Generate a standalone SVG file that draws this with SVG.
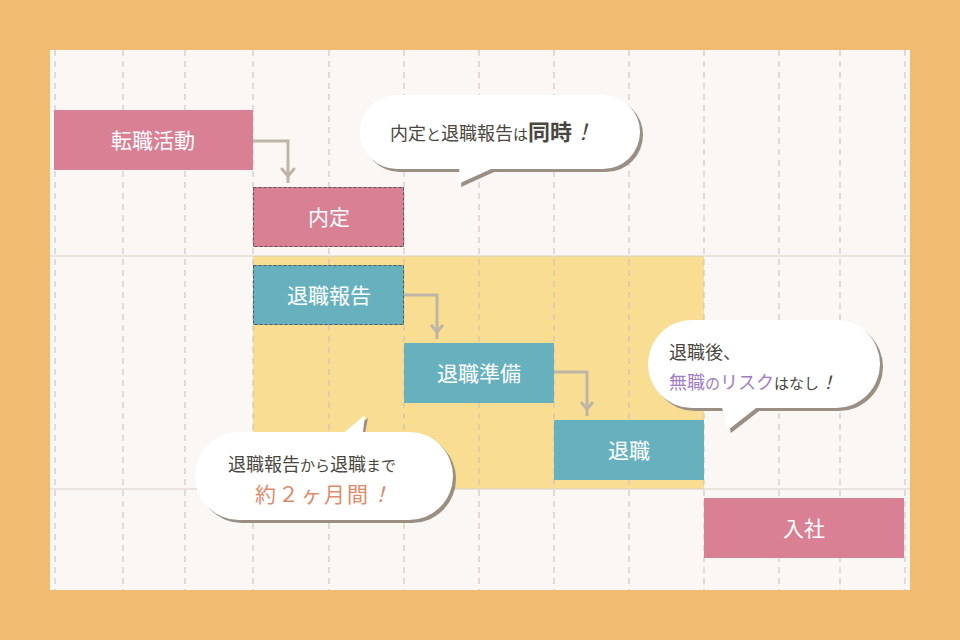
<svg xmlns="http://www.w3.org/2000/svg" width="960" height="640" viewBox="0 0 960 640">
<defs>
<style>
.g{stroke:#c8bfb6;stroke-width:1;stroke-dasharray:6 5}
.h{stroke:#d8d0c6;stroke-width:1}
.pk{fill:#d98095}
.tl{fill:#67b1bf}
.dl{fill:none;stroke:#5a5550;stroke-width:1;stroke-dasharray:3 2}
.bt{font-family:"Noto Sans CJK JP",sans-serif;font-size:21px;fill:#fff;text-anchor:middle}
.bb{font-family:"Noto Sans CJK JP",sans-serif;font-size:18px;fill:#4a4640}
.cn{fill:none;stroke:#bfb5a6;stroke-width:3}
.bub{fill:#fff}
.sh{fill:#9b8e82}
</style>
<marker id="a" viewBox="0 0 10 10" refX="5" refY="8" markerWidth="5" markerHeight="5" orient="auto-start-reverse" markerUnits="userSpaceOnUse"><path d="M0,5 L5,10 L10,5" fill="none" stroke="#bfb5a6" stroke-width="2.5" transform="rotate(-90 5 5)"/></marker>
</defs>
<rect width="960" height="640" fill="#f2bb72"/>
<rect x="50" y="50" width="860" height="540" fill="#fbf7f4"/>
<rect x="253" y="256" width="451" height="233" fill="#f8dd92"/>
<g id="grid">
<line class="g" x1="55" y1="50" x2="55" y2="590"/>
<line class="g" x1="123" y1="50" x2="123" y2="590"/>
<line class="g" x1="185" y1="50" x2="185" y2="590"/>
<line class="g" x1="253" y1="50" x2="253" y2="590"/>
<line class="g" x1="329" y1="50" x2="329" y2="590"/>
<line class="g" x1="404" y1="50" x2="404" y2="590"/>
<line class="g" x1="479" y1="50" x2="479" y2="590"/>
<line class="g" x1="554" y1="50" x2="554" y2="590"/>
<line class="g" x1="629" y1="50" x2="629" y2="590"/>
<line class="g" x1="704" y1="50" x2="704" y2="590"/>
<line class="g" x1="779" y1="50" x2="779" y2="590"/>
<line class="g" x1="840" y1="50" x2="840" y2="590"/>
<line class="g" x1="905" y1="50" x2="905" y2="590"/>
<line class="h" x1="50" y1="256" x2="910" y2="256"/>
<line class="h" x1="50" y1="489" x2="910" y2="489"/>
</g>
<g id="connectors">
<path class="cn" d="M253,141 H288 V183"/>
<path class="cn" d="M288,176 l-6,-7 M288,176 l6,-7" stroke-linecap="round"/>
<path class="cn" d="M404,295 H437 V339"/>
<path class="cn" d="M437,332 l-6,-7 M437,332 l6,-7"/>
<path class="cn" d="M554,372 H587 V416"/>
<path class="cn" d="M587,409 l-6,-7 M587,409 l6,-7"/>
</g>
<g id="n1"><rect class="pk" x="54" y="110" width="199" height="60"/><text class="bt" x="153" y="148">転職活動</text></g>
<g id="n2"><rect class="pk" x="253" y="187" width="151" height="60"/><rect class="dl" x="253.5" y="187.5" width="150" height="59"/><text class="bt" x="329" y="225">内定</text></g>
<g id="n3"><rect class="tl" x="253" y="265" width="151" height="60"/><rect class="dl" x="253.5" y="265.5" width="150" height="59"/><text class="bt" x="329" y="303">退職報告</text></g>
<g id="n4"><rect class="tl" x="404" y="343" width="150" height="60"/><text class="bt" x="479" y="381">退職準備</text></g>
<g id="n5"><rect class="tl" x="554" y="420" width="150" height="60"/><text class="bt" x="629" y="458">退職</text></g>
<g id="n6"><rect class="pk" x="704" y="498" width="200" height="60"/><text class="bt" x="804" y="536">入社</text></g>
<g id="b1">
<g transform="translate(3,3)" class="sh"><rect x="360" y="95" width="280" height="74" rx="37"/><path d="M460,160 L458,184 L500,165 Z"/></g>
<rect class="bub" x="360" y="95" width="280" height="74" rx="37"/><path class="bub" d="M460,160 L458,184 L500,165 Z"/>
<text class="bb" x="390" y="140">内定<tspan font-size="15">と</tspan>退職報告<tspan font-size="15">は</tspan><tspan font-size="22" font-weight="bold">同時</tspan><tspan font-size="22" font-style="italic">！</tspan></text>
</g>
<g id="b2">
<g transform="translate(3,3)" class="sh"><rect x="195" y="432" width="258" height="88" rx="44"/><path d="M335,440 L365,415 L360,440 Z"/></g>
<rect class="bub" x="195" y="432" width="258" height="88" rx="44"/><path class="bub" d="M335,440 L365,415 L362,440 Z"/>
<text class="bb" x="228" y="471">退職報告<tspan font-size="15">から</tspan>退職<tspan font-size="15">まで</tspan></text>
<text x="324" y="502" text-anchor="middle" font-family="'Noto Sans CJK JP',sans-serif" font-size="21" fill="#e08a6a" letter-spacing="2">約２ヶ月間<tspan font-style="italic">！</tspan></text>
</g>
<g id="b3">
<g transform="translate(3,3)" class="sh"><rect x="648" y="320" width="232" height="88" rx="44"/><path d="M720,400 L728,430 L760,405 Z"/></g>
<rect class="bub" x="648" y="320" width="232" height="88" rx="44"/><path class="bub" d="M720,400 L728,430 L760,405 Z"/>
<text class="bb" x="669" y="359">退職後、</text>
<text class="bb" x="669" y="389"><tspan fill="#a07cc4">無職<tspan font-size="15">の</tspan>リスク</tspan><tspan font-size="15">はなし</tspan><tspan font-style="italic">！</tspan></text>
</g>
</svg>
